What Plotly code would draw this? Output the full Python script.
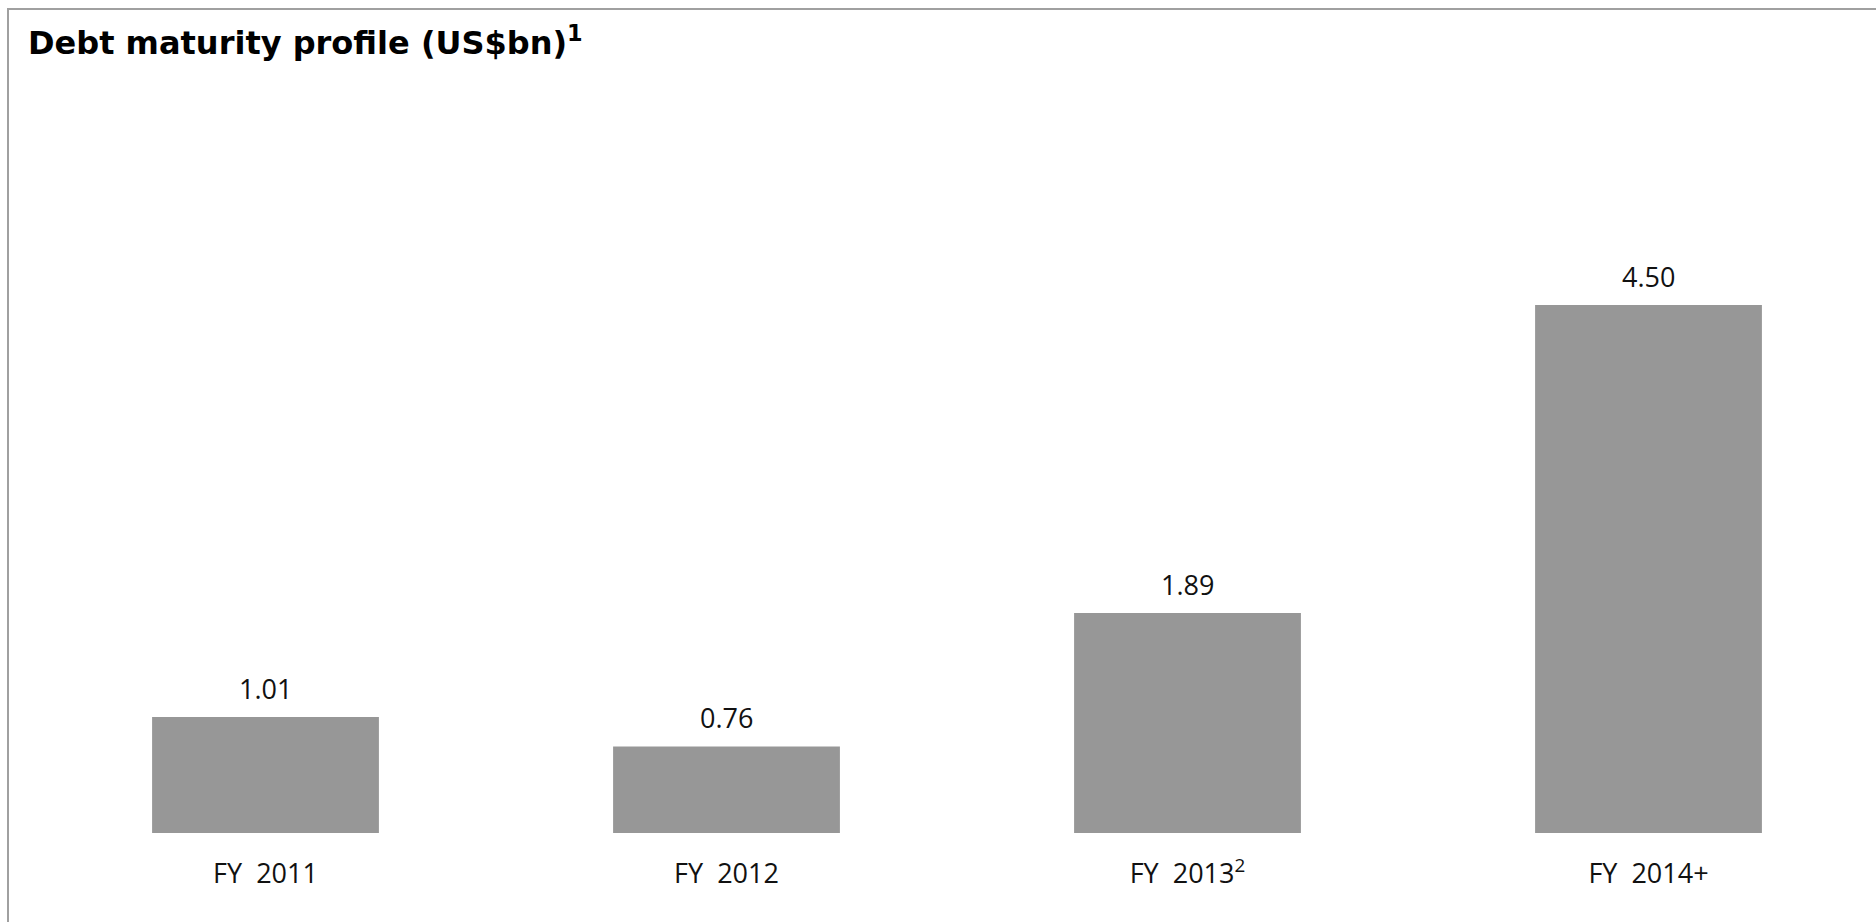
import plotly.graph_objects as go

# Debt maturity profile, US$ billions
categories = ["FY 2011", "FY 2012", "FY 2013", "FY 2014+"]
tick_labels = ["FY\u00a0\u00a02011", "FY\u00a0\u00a02012", "FY\u00a0\u00a02013<sup>2</sup>", "FY\u00a0\u00a02014+"]
values = [1.01, 0.76, 1.89, 4.50]
value_labels = ["1.01", "0.76", "1.89", "4.50"]

W, H = 1876, 922
M_L, M_R, M_T, M_B = 35, 0, 100, 89
plot_w = W - M_L - M_R
plot_h = H - M_T - M_B

BAR_COLOR = "#979797"
BORDER_COLOR = "#a0a0a0"
FONT = "Open Sans"
TITLE_FONT = "DejaVu Sans"

fig = go.Figure(
    go.Bar(
        x=categories,
        y=values,
        marker=dict(color=BAR_COLOR, line=dict(width=0)),
        hoverinfo="skip",
    )
)

# value labels above each bar
for cat, v, lab in zip(categories, values, value_labels):
    fig.add_annotation(
        x=cat, y=v, text=lab, showarrow=False,
        xanchor="center", yanchor="bottom", yshift=8,
        font=dict(family=FONT, size=27, color="#111111"),
    )

# frame: left and top rules
def px_x(px):
    return (px - M_L) / plot_w

def px_y(py):
    return (H - M_B - py) / plot_h

fig.add_shape(type="line", xref="paper", yref="paper",
              x0=px_x(8), x1=px_x(8), y0=px_y(9), y1=px_y(H + 5),
              line=dict(color=BORDER_COLOR, width=2))
fig.add_shape(type="line", xref="paper", yref="paper",
              x0=px_x(7), x1=px_x(W + 5), y0=px_y(9), y1=px_y(9),
              line=dict(color=BORDER_COLOR, width=2))

fig.update_layout(
    width=W, height=H,
    margin=dict(l=M_L, r=M_R, t=M_T, b=M_B),
    paper_bgcolor="white", plot_bgcolor="white",
    bargap=0.508,
    showlegend=False,
    title=dict(
        text="<b>Debt maturity profile (US$bn)</b><sup><b>1</b></sup>",
        xref="container", yref="container",
        x=28 / W, xanchor="left",
        y=1 - 32 / H, yanchor="top",
        font=dict(family=TITLE_FONT, size=32, color="#000000"),
    ),
    xaxis=dict(
        range=[-0.5, -0.5 + plot_w / 461],
        tickmode="array", tickvals=categories, ticktext=tick_labels,
        ticks="", showline=False, showgrid=False, zeroline=False,
        tickfont=dict(family=FONT, size=27, color="#111111"),
        ticklabelstandoff=22,
    ),
    yaxis=dict(
        range=[0.027, 0.027 + plot_h / 118.05],
        visible=False, showgrid=False, zeroline=False,
    ),
)

fig.write_html("out.html")
